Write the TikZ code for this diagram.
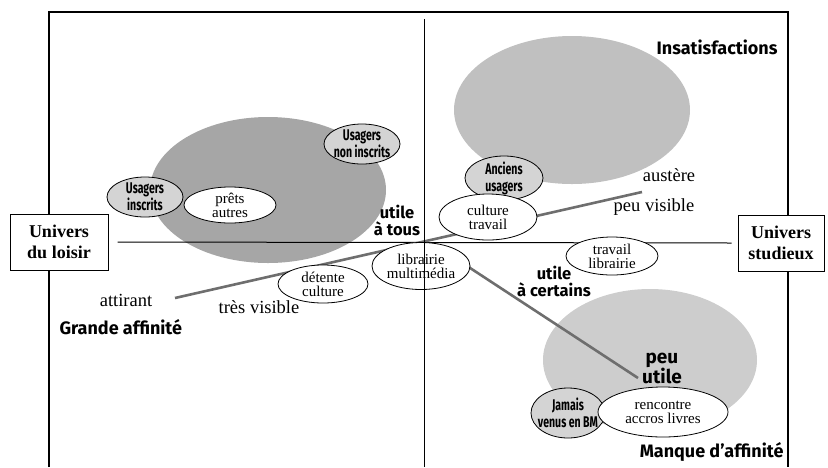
\documentclass[tikz,border=0pt]{standalone}
\usepackage{fontspec}
\setmainfont{Liberation Serif}
\newfontfamily\grasfont{Fira Sans}
\newfontfamily\etroitfont[FakeStretch=0.68]{Fira Sans}
\usetikzlibrary{shapes.geometric}
\definecolor{grisfonce}{RGB}{166, 166, 166}
\definecolor{grisclair}{RGB}{192, 192, 192}
\definecolor{grispale}{RGB}{205, 205, 205}
\definecolor{grispublic}{RGB}{212, 212, 212}
\definecolor{grisligne}{RGB}{110, 110, 110}

\tikzset{
  cadre/.style={black, line width=1.3pt},
  axe/.style={black, line width=1pt},
  tendance/.style={grisligne, line width=2.6pt},
  univers/.style={draw=black, line width=1pt, fill=white, align=center,
    minimum width=98, minimum height=56, inner sep=0pt,
    font=\fontsize{18}{21}\selectfont\bfseries},
  bulle/.style={ellipse, draw=black, line width=0.8pt, fill=white, inner sep=-4pt,
    align=center, font=\fontsize{15}{14}\selectfont},
  public/.style={bulle, fill=grispublic, inner sep=-6pt,
    font=\etroitfont\bfseries\fontsize{15.5}{17}\selectfont},
  titre/.style={font=\grasfont\bfseries\fontsize{18}{20}\selectfont},
  utilite/.style={align=center, font=\grasfont\bfseries\fontsize{16.5}{17}\selectfont},
  qualite/.style={font=\fontsize{18.5}{18}\selectfont}
}

\begin{document}
\begin{tikzpicture}[x=1pt, y=-1pt]
  \useasboundingbox (0,0) rectangle (828,467);

  % cadre
  \draw[cadre] (49,467) -- (49,12) -- (788,12) -- (788,467);

  % zones grises
  \fill[grisfonce] (268,190) ellipse [x radius=118, y radius=73];
  \fill[grisclair] (572,110) ellipse [x radius=118, y radius=74];
  \fill[grispale]  (650,360) ellipse [x radius=107, y radius=71];

  % univers
  \node[univers] (loisir)   at (59,242)  {Univers\\du loisir};
  \node[univers, minimum width=86] (studieux) at (781,243) {Univers\\studieux};
  \draw[axe] ([xshift=9pt]loisir.east) -- ([xshift=-6pt]studieux.west);

  % tendances
  \coordinate (attire) at (175,298);
  \coordinate (austere) at (642,192);
  \coordinate (certains) at (464,264);
  \coordinate (peuutile) at (638,378);
  \draw[tendance] (attire) -- (austere);
  \draw[tendance] (certains) -- (peuutile);

  % publics
  \node[public, minimum width=76, minimum height=40] (inscrits)    at (145,197) {Usagers\\inscrits};
  \node[public, minimum width=76, minimum height=40] (noninscrits) at (362,144) {Usagers\\non inscrits};
  \node[public, minimum width=78, minimum height=44] (anciens)     at (504,178) {Anciens\\usagers};
  \node[public, minimum width=74, minimum height=50] (jamais)      at (568,413) {Jamais\\venus en BM};

  % usages
  \node[bulle, minimum width=92, minimum height=36] (prets)     at (230,205) {prêts\\autres};
  \node[bulle, minimum width=98, minimum height=46] (culture)   at (488,217) {culture\\travail};
  \node[bulle, minimum width=98, minimum height=47] (librairie) at (421,266) {librairie\\multimédia};
  \node[bulle, minimum width=90, minimum height=38] (detente)   at (323,284) {détente\\culture};
  \node[bulle, minimum width=92, minimum height=38] (travail)   at (612,256) {travail\\librairie};
  \node[bulle, minimum width=130, minimum height=50] (rencontre) at (663,412) {rencontre\\accros livres};

  \draw[axe] (424,19) -- (424,467);

  % textes
  \node[titre, anchor=east] (insatisf) at (781,47) {Insatisfactions};
  \node[titre, anchor=west] (grande) at (56,327) {Grande affinité};
  \node[titre, anchor=east] (manque) at (787,452) {Manque d’affinité};
  \node[utilite] (tous) at (397,220) {utile\\à tous};
  \node[utilite] (acertains) at (554,281) {utile\\à certains};
  \node[utilite, font=\grasfont\bfseries\fontsize{19}{20}\selectfont] (peu) at (662,368) {peu\\utile};
  \node[qualite] (attirant) at (126,300) {attirant};
  \node[qualite] (visible) at (259,307) {très visible};
  \node[qualite] (austeretxt) at (669,175) {austère};
  \node[qualite] (peuvisible) at (654,207) {peu visible};
\end{tikzpicture}
\end{document}
